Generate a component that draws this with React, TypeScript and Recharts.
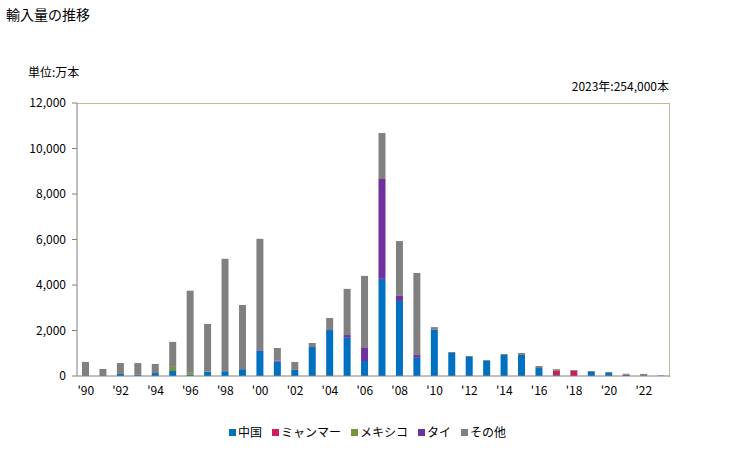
import React from "react";
import { BarChart, Bar, XAxis, YAxis } from "recharts";

const years = ["'90","'91","'92","'93","'94","'95","'96","'97","'98","'99","'00","'01","'02","'03","'04","'05","'06","'07","'08","'09","'10","'11","'12","'13","'14","'15","'16","'17","'18","'19","'20","'21","'22","'23"];
const china = [0,0,90,50,130,220,50,190,210,300,1100,630,270,1275,2020,1680,660,4270,3300,800,2030,1010,835,660,925,925,350,40,0,175,130,0,0,0];
const myanmar = [0,0,0,0,0,0,0,0,0,0,0,0,0,0,0,0,0,0,0,0,0,0,0,0,0,0,0,180,220,0,0,0,0,0];
const mexico = [0,0,0,0,0,180,90,0,0,0,0,0,0,0,0,0,0,0,0,0,0,0,0,0,0,0,0,40,0,0,0,0,0,0];
const thai = [0,0,0,0,0,0,0,0,0,0,30,40,0,0,0,120,570,4390,220,120,0,0,0,0,0,0,0,0,0,0,0,60,0,0];
const other = [620,310,480,520,400,1100,3610,2100,4940,2820,4900,560,345,175,530,2030,3170,2020,2410,3610,120,45,45,40,45,85,90,40,40,45,45,40,90,25.4];
const yTicks = [0,2000,4000,6000,8000,10000,12000];

const series = [
  { key: "china", name: "中国", color: "#0070C0" },
  { key: "myanmar", name: "ミャンマー", color: "#D01C5E" },
  { key: "mexico", name: "メキシコ", color: "#77933C" },
  { key: "thai", name: "タイ", color: "#7030A0" },
  { key: "other", name: "その他", color: "#808080" },
];

const data = years.map((y, i) => ({
  year: y,
  china: china[i],
  myanmar: myanmar[i],
  mexico: mexico[i],
  thai: thai[i],
  other: other[i],
}));

const FONT = "'Noto Sans CJK JP', 'Noto Sans', sans-serif";

export default function App() {
  return (
    <div style={{ position: "absolute", left: 0, top: 0, width: 729, height: 450, background: "#fff", fontFamily: FONT }}>
      <div style={{ position: "absolute", left: 6, top: 4, fontSize: 14, lineHeight: "20px" }}>輸入量の推移</div>
      <div style={{ position: "absolute", left: 28, top: 63, fontSize: 12, lineHeight: "18px" }}>単位:万本</div>
      <div style={{ position: "absolute", right: 60, top: 77, fontSize: 12, lineHeight: "18px" }}>2023年:254,000本</div>
      <div style={{ position: "absolute", left: 77, top: 103, width: 592, height: 273, borderTop: "1px solid #C4B995", borderRight: "1px solid #C4B995", pointerEvents: "none" }} />
      <BarChart
        width={729}
        height={450}
        data={data}
        margin={{ top: 103, right: 59, bottom: 44, left: 17 }}
        barCategoryGap={0}
        style={{ position: "absolute", left: 0, top: 0 }}
      >
        <XAxis
          dataKey="year"
          interval={1}
          tickLine={false}
          tickSize={8}
          tickMargin={2}
          axisLine={{ stroke: "#808080" }}
          tick={{ fill: "#000", fontSize: 12, fontFamily: FONT }}
          height={30}
        />
        <YAxis
          domain={[0, 12000]}
          ticks={yTicks}
          interval={0}
          width={60}
          tickSize={5}
          tickMargin={6}
          tickLine={{ stroke: "#808080" }}
          axisLine={{ stroke: "#808080" }}
          tick={{ fill: "#000", fontSize: 12, fontFamily: FONT }}
          tickFormatter={(v: number) => v.toLocaleString("en-US")}
        />
        {series.map((s) => (
          <Bar key={s.key} dataKey={s.key} name={s.name} stackId="a" fill={s.color} barSize={7} isAnimationActive={false} />
        ))}
      </BarChart>
      <div style={{ position: "absolute", left: 229, top: 423, display: "flex", fontSize: 12, lineHeight: "18px", color: "#000" }}>
        {series.map((s) => (
          <div key={s.key} style={{ display: "flex", alignItems: "center", marginRight: 10 }}>
            <span style={{ display: "inline-block", width: 7, height: 7, background: s.color, marginRight: 2 }} />
            <span>{s.name}</span>
          </div>
        ))}
      </div>
    </div>
  );
}
